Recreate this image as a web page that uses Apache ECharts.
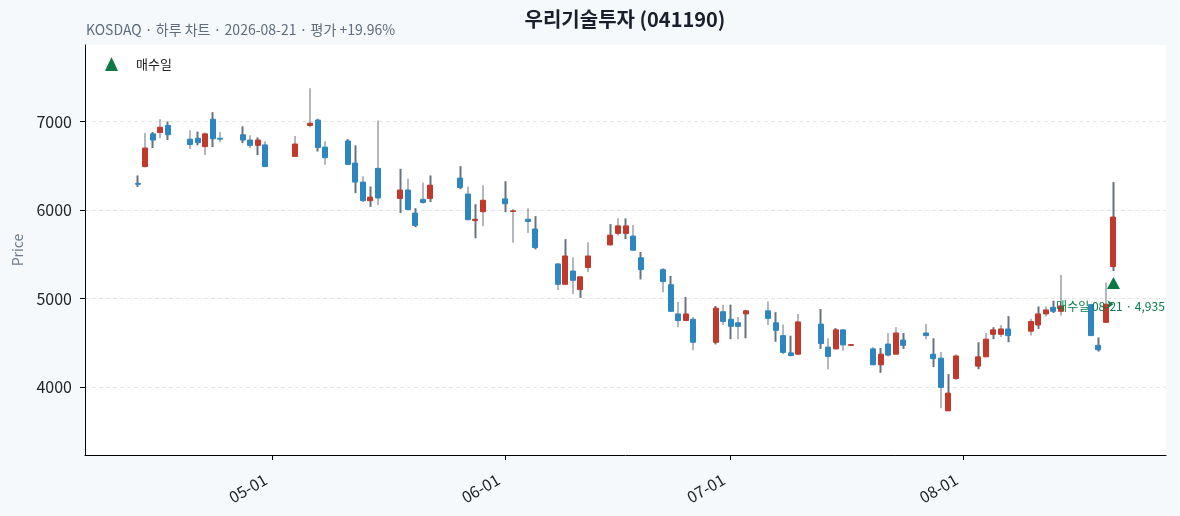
<!DOCTYPE html>
<html>
<head>
<meta charset="utf-8">
<title>우리기술투자 (041190)</title>
<script src="https://cdn.jsdelivr.net/npm/echarts@6/dist/echarts.min.js"></script>
<style>
html, body { margin: 0; padding: 0; background: #f5f9fc; }
#chart { width: 1180px; height: 516px; }
</style>
</head>
<body>
<div id="chart"></div>
<script>
// 일봉 데이터
var dates = [
    '2026-04-13', '2026-04-14', '2026-04-15', '2026-04-16', '2026-04-17',
    '2026-04-20', '2026-04-21', '2026-04-22', '2026-04-23', '2026-04-24',
    '2026-04-27', '2026-04-28', '2026-04-29', '2026-04-30', '2026-05-04',
    '2026-05-06', '2026-05-07', '2026-05-08', '2026-05-11', '2026-05-12',
    '2026-05-13', '2026-05-14', '2026-05-15', '2026-05-18', '2026-05-19',
    '2026-05-20', '2026-05-21', '2026-05-22', '2026-05-26', '2026-05-27',
    '2026-05-28', '2026-05-29', '2026-06-01', '2026-06-02', '2026-06-04',
    '2026-06-05', '2026-06-08', '2026-06-09', '2026-06-10', '2026-06-11',
    '2026-06-12', '2026-06-15', '2026-06-16', '2026-06-17', '2026-06-18',
    '2026-06-19', '2026-06-22', '2026-06-23', '2026-06-24', '2026-06-25',
    '2026-06-26', '2026-06-29', '2026-06-30', '2026-07-01', '2026-07-02',
    '2026-07-03', '2026-07-06', '2026-07-07', '2026-07-08', '2026-07-09',
    '2026-07-10', '2026-07-13', '2026-07-14', '2026-07-15', '2026-07-16',
    '2026-07-17', '2026-07-20', '2026-07-21', '2026-07-22', '2026-07-23',
    '2026-07-24', '2026-07-27', '2026-07-28', '2026-07-29', '2026-07-30',
    '2026-07-31', '2026-08-03', '2026-08-04', '2026-08-05', '2026-08-06',
    '2026-08-07', '2026-08-10', '2026-08-11', '2026-08-12', '2026-08-13',
    '2026-08-14', '2026-08-18', '2026-08-19', '2026-08-20', '2026-08-21'
];
var opens = [
    6300, 6490, 6860, 6875, 6955, 6800, 6810, 6715, 7025, 6810,
    6850, 6790, 6730, 6735, 6605, 6955, 7015, 6710, 6780, 6530,
    6315, 6105, 6470, 6130, 6225, 5965, 6120, 6130, 6360, 6180,
    5880, 5980, 6125, 5983, 5895, 5785, 5390, 5160, 5310, 5100,
    5350, 5605, 5735, 5735, 5705, 5460, 5325, 5155, 4825, 4750,
    4765, 4505, 4850, 4765, 4725, 4825, 4860, 4725, 4580, 4385,
    4370, 4710, 4450, 4430, 4645, 4470, 4430, 4250, 4485, 4370,
    4530, 4610, 4370, 4325, 3730, 4095, 4235, 4340, 4595, 4595,
    4655, 4630, 4700, 4825, 4900, 4855, 4930, 4470, 4730, 5360
];
var closes = [
    6290, 6700, 6790, 6935, 6850, 6740, 6760, 6860, 6805, 6800,
    6790, 6730, 6790, 6490, 6745, 6980, 6705, 6590, 6515, 6315,
    6105, 6145, 6135, 6225, 6005, 5825, 6085, 6280, 6255, 5890,
    5895, 6110, 6070, 5990, 5870, 5575, 5160, 5480, 5205, 5245,
    5480, 5715, 5820, 5820, 5545, 5325, 5190, 4855, 4750, 4825,
    4505, 4890, 4740, 4685, 4685, 4860, 4775, 4640, 4390, 4355,
    4735, 4490, 4345, 4645, 4475, 4478, 4250, 4370, 4360, 4610,
    4470, 4580, 4320, 3995, 3930, 4350, 4340, 4540, 4645, 4655,
    4580, 4740, 4825, 4870, 4855, 4915, 4580, 4420, 4935, 5920
];
var lows = [
    6260, 6480, 6700, 6810, 6790, 6690, 6730, 6620, 6710, 6765,
    6755, 6700, 6620, 6485, 6600, 6935, 6660, 6510, 6515, 6190,
    6090, 6035, 6055, 5965, 5995, 5805, 6070, 6090, 6235, 5885,
    5680, 5820, 5975, 5630, 5740, 5555, 5095, 5160, 5050, 5005,
    5295, 5600, 5710, 5670, 5545, 5215, 5070, 4850, 4675, 4750,
    4415, 4480, 4700, 4540, 4540, 4550, 4700, 4510, 4370, 4345,
    4365, 4430, 4200, 4425, 4410, 4468, 4248, 4160, 4345, 4370,
    4430, 4540, 4225, 3760, 3728, 4078, 4200, 4338, 4540, 4565,
    4505, 4580, 4655, 4795, 4835, 4805, 4575, 4400, 4728, 5310
];
var highs = [
    6390, 6870, 6880, 7025, 7000, 6900, 6885, 6875, 7105, 6880,
    6945, 6845, 6820, 6775, 6835, 7375, 7030, 6775, 6800, 6730,
    6380, 6265, 7010, 6465, 6355, 6020, 6310, 6390, 6495, 6265,
    6065, 6280, 6325, 6010, 6020, 5930, 5400, 5670, 5465, 5245,
    5635, 5840, 5905, 5905, 5830, 5525, 5345, 5255, 4960, 5015,
    4790, 4915, 4930, 4930, 4790, 4870, 4965, 4845, 4705, 4580,
    4825, 4880, 4550, 4665, 4648, 4480, 4450, 4440, 4610, 4675,
    4610, 4710, 4550, 4395, 4145, 4370, 4505, 4610, 4675, 4700,
    4800, 4770, 4910, 4910, 4975, 5265, 4935, 4560, 5180, 6315
];

// 매수 정보
var buyDate = '2026-08-21';
var buyPrice = 4935;
var buyMarkerPrice = 5175;

// 축 눈금
var priceTicks = [4000, 5000, 6000, 7000];
var monthTicks = ['2026-05-01', '2026-06-01', '2026-07-01', '2026-08-01'];

var UP = '#c0392b', DOWN = '#2e86c1', WICK = '#66737f', BUY = '#0b7a45';
var FONT = '"Noto Sans CJK KR", "Noto Sans", sans-serif';

//날짜 문자열 -> 타임스탬프
function toTime(s) {
    var p = s.split('-');
    return new Date(+p[0], +p[1] - 1, +p[2]).getTime();
}
function pad(n) {
    return (n < 10 ? '0' : '') + n;
}

var wickData = dates.map(function (d, i) {
    return [toTime(d), lows[i], highs[i], lows[i], highs[i]];
});
var bodyData = dates.map(function (d, i) {
    return [toTime(d), opens[i], closes[i], Math.min(opens[i], closes[i]), Math.max(opens[i], closes[i])];
});

var chart = echarts.init(document.getElementById('chart'));
chart.setOption({
    animation: false,
    backgroundColor: '#f5f9fc',
    textStyle: { fontFamily: FONT },
    title: [{
        text: '우리기술투자 (041190)',
        left: 625,
        textAlign: 'center',
        top: 9,
        padding: 0,
        textStyle: { fontSize: 20, fontWeight: 'bold', color: '#1a1f2b', fontFamily: FONT }
    }, {
        text: 'KOSDAQ · 하루 차트 · 2026-08-21 · 평가 +19.96%',
        left: 86,
        top: 23,
        padding: 0,
        textStyle: { fontSize: 14, fontWeight: 'normal', color: '#5d6d7e', fontFamily: FONT }
    }],
    legend: {
        data: [{ name: '매수일', icon: 'triangle' }],
        left: 105,
        top: 57,
        padding: 0,
        itemWidth: 13,
        itemHeight: 14,
        textStyle: { fontSize: 13, color: '#222', padding: [0, 0, 0, 13], fontFamily: FONT }
    },
    grid: {
        left: 85,
        right: 14,
        top: 45,
        bottom: 61,
        show: true,
        backgroundColor: '#ffffff',
        borderWidth: 0
    },
    xAxis: {
        type: 'value',
        min: toTime('2026-04-06'),
        max: toTime('2026-08-28'),
        axisLine: { lineStyle: { color: '#000', width: 1 } },
        axisTick: {
            customValues: monthTicks.map(toTime),
            length: 5,
            lineStyle: { color: '#000' }
        },
        axisLabel: {
            customValues: monthTicks.map(toTime),
            rotate: 30,
            margin: 19,
            padding: [0, 8, 0, 0],
            fontSize: 16,
            color: '#222',
            fontFamily: FONT,
            formatter: function (v) {
                var d = new Date(v);
                return pad(d.getMonth() + 1) + '-' + pad(d.getDate());
            }
        },
        splitLine: { show: false }
    },
    yAxis: {
        type: 'value',
        min: 3231,
        max: 7864,
        name: 'Price',
        nameLocation: 'middle',
        nameGap: 60,
        nameTextStyle: { color: '#6b7b8c', fontSize: 14, fontFamily: FONT },
        axisLine: { show: true, lineStyle: { color: '#000', width: 1 } },
        axisTick: {
            show: true,
            customValues: priceTicks,
            length: 5,
            lineStyle: { color: '#000' }
        },
        axisLabel: {
            customValues: priceTicks,
            margin: 13,
            fontSize: 16,
            color: '#222',
            fontFamily: FONT,
            formatter: function (v) { return String(v); }
        },
        splitLine: {
            show: true,
            lineStyle: { color: '#e6e6e6', type: [4, 3], width: 1 }
        }
    },
    series: [{
        name: 'wick',
        type: 'candlestick',
        data: wickData,
        barWidth: 2,
        silent: true,
        z: 2,
        itemStyle: {
            color: WICK, color0: WICK,
            borderColor: WICK, borderColor0: WICK,
            borderWidth: 0
        }
    }, {
        name: 'body',
        type: 'candlestick',
        data: bodyData,
        barWidth: 5.5,
        silent: true,
        z: 3,
        itemStyle: {
            color: UP, color0: DOWN,
            borderColor: UP, borderColor0: DOWN,
            borderWidth: 1
        }
    }, {
        name: '매수일',
        type: 'scatter',
        symbol: 'triangle',
        symbolSize: [13, 12],
        z: 5,
        itemStyle: { color: BUY, opacity: 1 },
        data: [[toTime(buyDate), buyMarkerPrice]]
    }, {
        name: 'buyNote',
        type: 'scatter',
        symbol: 'arrow',
        symbolRotate: -90,
        symbolSize: [6, 6],
        z: 6,
        silent: true,
        itemStyle: { color: BUY, opacity: 1 },
        label: {
            show: true,
            position: 'inside',
            offset: [0, 2],
            formatter: '매수일 08-21 · ' + buyPrice.toLocaleString('en-US'),
            color: BUY,
            fontSize: 12,
            fontFamily: FONT
        },
        data: [[toTime(buyDate), buyPrice]]
    }]
});
</script>
</body>
</html>
